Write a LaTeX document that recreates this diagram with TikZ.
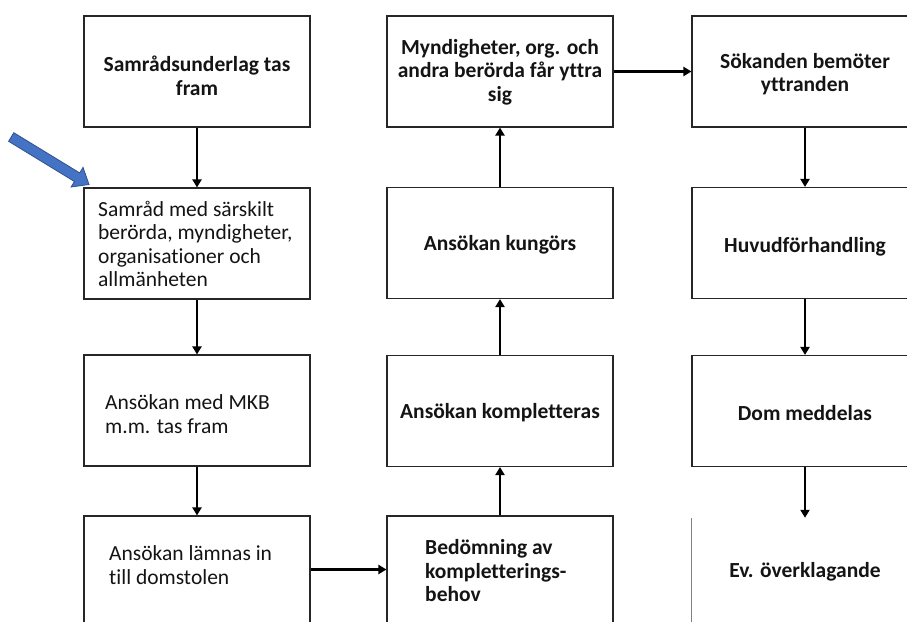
\documentclass[tikz,border=0pt]{standalone}
\usepackage{fontspec}
\setmainfont{Carlito}[Ligatures=NoCommon]
\usetikzlibrary{arrows.meta}
\definecolor{txtcol}{HTML}{141414}
\definecolor{arrblue}{HTML}{4472C4}
\definecolor{arrblueedge}{HTML}{2F528F}
\tikzset{
  box/.style={draw=black!85, line width=1.1pt, minimum width=226pt, minimum height=111pt, inner sep=0pt},
  nobox/.style={minimum width=226pt, minimum height=111pt, inner sep=0pt},
  txt/.style={text=txtcol, font=\fontsize{21.5}{23.5}\selectfont\bfseries, inner sep=0pt},
  txtr/.style={text=txtcol, font=\fontsize{21.5}{23.5}\selectfont, inner sep=0pt},
  flow/.style={line width=2.6pt, -{Triangle[length=8pt,width=9pt]}},
}
\begin{document}
\begin{tikzpicture}[x=1pt,y=-1pt]
\clip (0,0) rectangle (907,621);
\fill[white] (0,0) rectangle (907,621);
% column 1
\node[box] (b1) at (197,71.5) {};
\node[txt, align=center] (t1) at (197,76) {Samrådsunderlag tas\\fram};
\node[box] (b2) at (197,243.5) {};
\node[txtr, align=left, anchor=west] (t2) at (98,244) {Samråd med särskilt\\berörda, myndigheter,\\organisationer och\\allmänheten};
\node[box] (b3) at (197,410.5) {};
\node[txtr, align=left, anchor=west] (t3) at (105,414) {Ansökan med MKB\\m.m. tas fram};
\node[box] (b4) at (197,571.5) {};
\node[txtr, align=left, anchor=west] (t4) at (109,565) {Ansökan lämnas in\\till domstolen};
% column 2
\node[box] (b8) at (500,71.5) {};
\node[txt, align=center] (t8) at (500,72) {Myndigheter, org. och\\andra berörda får yttra\\sig};
\node[box] (b7) at (500,243) {};
\node[txt] (t7) at (500,245) {Ansökan kungörs};
\node[box] (b6) at (500,411) {};
\node[txt] (t6) at (500,413) {Ansökan kompletteras};
\node[box] (b5) at (500,571.5) {};
\node[txt, align=left, anchor=west] (t5) at (425,571) {Bedömning av\\kompletterings-\\behov};
% column 3
\node[box] (b9) at (805,71.5) {};
\node[txt, align=center] (t9) at (805,74) {Sökanden bemöter\\yttranden};
\node[box] (b10) at (805,243) {};
\node[txt] (t10) at (805,247) {Huvudförhandling};
\node[box] (b11) at (805,411) {};
\node[txt] (t11) at (805,413) {Dom meddelas};
\node[nobox] (b12) at (805,573.5) {};
\node[txt] (t12) at (805,572) {Ev. överklagande};
\draw[gray, line width=1pt] (b12.north west) -- (b12.south west);
% connectors
\draw[flow] (b1) -- (b2);
\draw[flow] (b2) -- (b3);
\draw[flow] (b3) -- (b4);
\draw[flow] ([yshift=2pt]b4.east) -- ([yshift=2pt]b5.west);
\draw[flow] (b5) -- (b6);
\draw[flow] (b6) -- (b7);
\draw[flow] (b7) -- (b8);
\draw[flow] (b8) -- (b9);
\draw[flow] (b9) -- (b10);
\draw[flow] (b10) -- (b11);
\draw[flow] (b11) -- (b12);
% blue pointer arrow
\draw[fill=arrblue, draw=arrblueedge, line width=0.8pt, line join=miter]
  (8.6,141.3) -- (13.8,132.7) -- (79.67,172.9) -- (83.05,167.4) -- (89,184.5)
  -- (71.07,187.0) -- (74.45,181.5) -- cycle;
\end{tikzpicture}
\end{document}
